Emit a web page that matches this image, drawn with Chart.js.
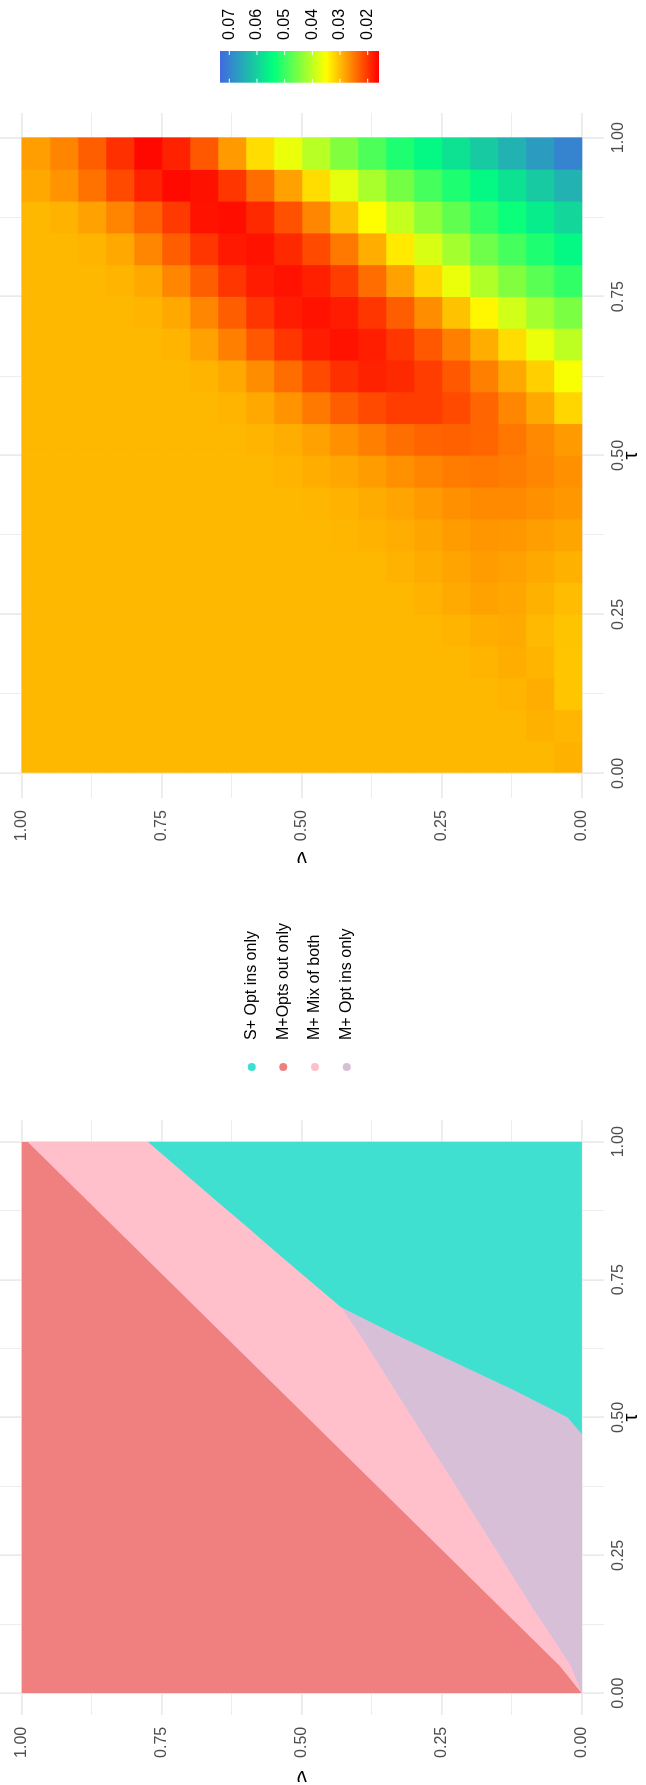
<!DOCTYPE html>
<html>
<head>
<meta charset="utf-8">
<script src="https://cdn.jsdelivr.net/npm/chart.js@4/dist/chart.umd.min.js"></script>
<style>
  html, body { margin: 0; padding: 0; background: #ffffff; overflow: hidden; }
  body { width: 646px; height: 1785px; position: relative; }
  /* the two panels are laid out side by side, then the sheet is turned a quarter turn */
  #sheet { position: absolute; left: 0; top: 0; width: 1785px; height: 646px;
           transform-origin: 0 0; transform: translate(0px, 1785px) rotate(-90deg); }
  #choiceBox { position: absolute; left: -20px; top: 0; width: 920px; height: 646px; }
  #lossBox { position: absolute; left: 900px; top: 0; width: 885px; height: 646px; }
</style>
</head>
<body>
<div id="sheet">
  <div id="choiceBox"><canvas id="choiceChart" width="920" height="646"></canvas></div>
  <div id="lossBox"><canvas id="lossChart" width="885" height="646"></canvas></div>
</div>
<script>
// ---------- shared axis ticks ----------
const tickValues = [0, 0.25, 0.5, 0.75, 1];
const tickLabels = ['0.00', '0.25', '0.50', '0.75', '1.00'];
const gridValues = [0, 0.125, 0.25, 0.375, 0.5, 0.625, 0.75, 0.875, 1];
const axisLimits = [-0.039, 1.039];

// ---------- left panel: which contract is chosen ----------
const categories = ['S+ Opt ins only', 'M+Opts out only', 'M+ Mix of both', 'M+ Opt ins only'];
const categoryColours = ['#40E0D0', '#F08080', '#FFC0CB', '#D8BFD8'];
// region edges along tau (nu value of each upper edge)
const tauSamples   = [0, 0.05, 0.1, 0.15, 0.2, 0.25, 0.3, 0.35, 0.4, 0.45, 0.47, 0.5, 0.55, 0.6, 0.65, 0.7, 0.75, 0.8, 0.85, 0.9, 0.95, 1];
const mixTop       = [0, 0.04, 0.09, 0.14, 0.19, 0.24, 0.29, 0.34, 0.39, 0.44, 0.46, 0.49, 0.54, 0.59, 0.64, 0.69, 0.74, 0.79, 0.84, 0.89, 0.94, 0.99];
const mOptInTop    = [0, 0.02, 0.052, 0.085, 0.116, 0.147, 0.178, 0.209, 0.24, 0.272, 0.284, 0.303, 0.334, 0.365, 0.396, 0.43, 0.488, 0.546, 0.603, 0.661, 0.718, 0.775];
const sOptInTop    = [0, 0, 0, 0, 0, 0, 0, 0, 0, 0, 0, 0.025, 0.122, 0.227, 0.332, 0.43, 0.488, 0.546, 0.603, 0.661, 0.718, 0.775];
const fieldTop = 1;
const fieldBottom = 0;

// ---------- right panel: loss surface ----------
const tauCentres = [0.025, 0.075, 0.125, 0.175, 0.225, 0.275, 0.325, 0.375, 0.425, 0.475, 0.525, 0.575, 0.625, 0.675, 0.725, 0.775, 0.825, 0.875, 0.925, 0.975];
const nuCentres  = [0.025, 0.075, 0.125, 0.175, 0.225, 0.275, 0.325, 0.375, 0.425, 0.475, 0.525, 0.575, 0.625, 0.675, 0.725, 0.775, 0.825, 0.875, 0.925, 0.975];
// values in thousandths, one row per tau, nu ascending
const lossMilli = [
  [29.2,29.7,29.7,29.7,29.7,29.7,29.7,29.7,29.7,29.7,29.7,29.7,29.7,29.7,29.7,29.7,29.7,29.7,29.7,29.7],
  [29.6,29.2,29.7,29.7,29.7,29.7,29.7,29.7,29.7,29.7,29.7,29.7,29.7,29.7,29.7,29.7,29.7,29.7,29.7,29.7],
  [30.8,28.9,29.4,29.7,29.7,29.7,29.7,29.7,29.7,29.7,29.7,29.7,29.7,29.7,29.7,29.7,29.7,29.7,29.7,29.7],
  [30.8,29.4,29.0,29.4,29.7,29.7,29.7,29.7,29.7,29.7,29.7,29.7,29.7,29.7,29.7,29.7,29.7,29.7,29.7,29.7],
  [30.6,29.8,28.7,29.0,29.4,29.7,29.7,29.7,29.7,29.7,29.7,29.7,29.7,29.7,29.7,29.7,29.7,29.7,29.7,29.7],
  [30.0,29.2,28.4,28.1,28.7,29.3,29.7,29.7,29.7,29.7,29.7,29.7,29.7,29.7,29.7,29.7,29.7,29.7,29.7,29.7],
  [29.2,28.6,28.0,27.7,28.2,28.8,29.3,29.7,29.7,29.7,29.7,29.7,29.7,29.7,29.7,29.7,29.7,29.7,29.7,29.7],
  [28.3,27.8,27.3,27.2,27.6,28.3,28.9,29.3,29.6,29.7,29.7,29.7,29.7,29.7,29.7,29.7,29.7,29.7,29.7,29.7],
  [27.3,26.8,26.3,26.3,26.8,27.5,28.2,28.8,29.3,29.6,29.7,29.7,29.7,29.7,29.7,29.7,29.7,29.7,29.7,29.7],
  [26.8,26.0,25.3,25.0,25.2,25.8,26.7,27.6,28.4,29.0,29.5,29.7,29.7,29.7,29.7,29.7,29.7,29.7,29.7,29.7],
  [27.5,26.2,24.8,23.6,23.2,23.4,24.2,25.5,26.8,28.0,28.9,29.4,29.7,29.7,29.7,29.7,29.7,29.7,29.7,29.7],
  [32.0,28.5,26.0,23.5,21.5,20.5,20.5,21.5,23.0,25.0,27.0,28.5,29.4,29.7,29.7,29.7,29.7,29.7,29.7,29.7],
  [35.5,31.5,28.5,25.5,22.5,20.5,19.0,18.5,19.5,21.5,24.0,26.5,28.5,29.5,29.7,29.7,29.7,29.7,29.7,29.7],
  [40.0,36.5,32.5,29.0,25.5,22.5,20.0,18.2,17.3,18.0,20.0,22.5,25.5,28.0,29.4,29.7,29.7,29.7,29.7,29.7],
  [45.0,42.0,38.5,34.5,30.5,26.5,23.0,20.0,18.0,17.3,18.0,20.0,23.0,26.0,28.5,29.5,29.7,29.7,29.7,29.7],
  [50.5,47.5,44.5,41.0,36.5,32.0,28.0,24.0,20.5,18.3,17.3,18.0,20.0,23.0,26.0,28.5,29.5,29.7,29.7,29.7],
  [55.0,52.0,49.0,46.0,42.0,38.0,33.5,29.0,25.0,21.5,19.0,17.3,17.8,20.0,23.0,26.0,28.5,29.5,29.7,29.7],
  [59.5,56.5,53.5,50.5,47.0,43.5,39.5,35.0,30.5,26.0,22.0,19.0,17.0,17.3,20.3,23.2,25.8,28.0,29.3,29.7],
  [64.0,61.0,58.0,55.0,52.0,49.0,45.5,41.5,37.0,32.5,28.0,24.0,20.0,17.2,16.6,18.5,21.5,24.5,27.0,28.5],
  [70.0,67.0,64.0,61.0,58.0,55.0,52.0,48.5,44.5,40.5,36.5,32.5,27.5,22.5,18.5,16.5,19.5,23.0,25.8,27.8]
];
const colourStops = ['#FF0000', '#FFFF00', '#00FF7F', '#4169E1'];
const colourLimits = [0.01592, 0.07336];
const colourbarTicks = [0.02, 0.03, 0.04, 0.05, 0.06, 0.07];
const colourbarLabels = ['0.02', '0.03', '0.04', '0.05', '0.06', '0.07'];

// ---------- helpers ----------
const FONT = '"Liberation Sans", Arial, Helvetica, sans-serif';
Chart.defaults.font.family = FONT;

function hexToRgb(h) {
  return [parseInt(h.slice(1, 3), 16), parseInt(h.slice(3, 5), 16), parseInt(h.slice(5, 7), 16)];
}
const stopRgb = colourStops.map(hexToRgb);
function colourFor(v) {
  let f = (v - colourLimits[0]) / (colourLimits[1] - colourLimits[0]);
  f = Math.max(0, Math.min(1, f));
  const s = f * (stopRgb.length - 1);
  const i = Math.min(Math.floor(s), stopRgb.length - 2);
  const t = s - i;
  const a = stopRgb[i], b = stopRgb[i + 1];
  const c = k => Math.round(a[k] + (b[k] - a[k]) * t);
  return 'rgb(' + c(0) + ',' + c(1) + ',' + c(2) + ')';
}

function makeAxis(position, title, thickness, tickPad, titlePad) {
  return {
    type: 'linear',
    position: position,
    min: axisLimits[0],
    max: axisLimits[1],
    offset: false,
    border: { display: false },
    grid: {
      color: '#EBEBEB',
      lineWidth: ctx => (tickValues.indexOf(ctx.tick.value) >= 0 ? 1.8 : 0.9),
      drawTicks: false,
      offset: false
    },
    ticks: {
      autoSkip: false,
      maxRotation: 0,
      minRotation: 0,
      padding: tickPad,
      color: '#4D4D4D',
      font: { size: 16 },
      callback: value => {
        const k = tickValues.indexOf(value);
        return k >= 0 ? tickLabels[k] : '';
      }
    },
    afterBuildTicks: scale => { scale.ticks = gridValues.map(v => ({ value: v })); },
    afterFit: scale => {
      if (scale.isHorizontal()) scale.height = thickness; else scale.width = thickness;
      // the panel runs right up to the sheet edges, so no room is kept for overhanging labels
      scale.paddingTop = 0; scale.paddingBottom = 0;
      scale.paddingLeft = 0; scale.paddingRight = 0;
    },
    title: { display: true, text: title, color: '#000000', font: { size: 20 }, padding: titlePad }
  };
}

// ---------- legend for the choice panel ----------
const choiceKey = {
  id: 'choiceKey',
  afterDraw(chart, args, o) {
    const ctx = chart.ctx;
    ctx.save();
    ctx.font = '16px ' + FONT;
    ctx.textBaseline = 'middle';
    ctx.textAlign = 'left';
    const n = categories.length;
    for (let i = 0; i < n; i++) {
      const y = o.centreY + (i - (n - 1) / 2) * o.spacing;
      ctx.fillStyle = categoryColours[i];
      ctx.beginPath();
      ctx.arc(o.dotX, y, o.radius, 0, Math.PI * 2);
      ctx.fill();
      ctx.fillStyle = '#000000';
      ctx.fillText(categories[i], o.textX, y);
    }
    ctx.restore();
  }
};

// ---------- colour bar for the loss panel ----------
const colourKey = {
  id: 'colourKey',
  afterDraw(chart, args, o) {
    const ctx = chart.ctx;
    const yOf = v => o.top + (colourLimits[1] - v) / (colourLimits[1] - colourLimits[0]) * o.height;
    ctx.save();
    const g = ctx.createLinearGradient(0, o.top + o.height, 0, o.top);
    colourStops.forEach((c, k) => g.addColorStop(k / (colourStops.length - 1), c));
    ctx.fillStyle = g;
    ctx.fillRect(o.left, o.top, o.width, o.height);
    ctx.strokeStyle = '#FFFFFF';
    ctx.lineWidth = 1;
    ctx.font = '16px ' + FONT;
    ctx.textBaseline = 'middle';
    ctx.textAlign = 'left';
    colourbarTicks.forEach((v, k) => {
      const y = yOf(v);
      ctx.beginPath();
      ctx.moveTo(o.left, y); ctx.lineTo(o.left + o.tick, y);
      ctx.moveTo(o.left + o.width - o.tick, y); ctx.lineTo(o.left + o.width, y);
      ctx.stroke();
      ctx.fillStyle = '#000000';
      ctx.fillText(colourbarLabels[k], o.labelX, y);
    });
    ctx.restore();
  }
};

// ---------- left chart ----------
function edgeSeries(values) {
  return tauSamples.map((t, k) => ({ x: t, y: Array.isArray(values) ? values[k] : values }));
}
function region(values, colour) {
  return {
    data: edgeSeries(values),
    showLine: true,
    pointRadius: 0,
    borderWidth: 0,
    borderColor: 'rgba(0,0,0,0)',
    backgroundColor: colour,
    fill: { target: 4 }
  };
}

new Chart(document.getElementById('choiceChart'), {
  type: 'scatter',
  data: {
    datasets: [
      region(sOptInTop, categoryColours[0]),
      region(mOptInTop, categoryColours[3]),
      region(mixTop, categoryColours[2]),
      region(fieldTop, categoryColours[1]),
      { data: edgeSeries(fieldBottom), showLine: true, pointRadius: 0, borderWidth: 0, borderColor: 'rgba(0,0,0,0)', fill: false }
    ]
  },
  options: {
    responsive: false,
    animation: false,
    events: [],
    layout: { padding: { left: 0, right: 235.2, top: 0, bottom: 0 } },
    plugins: {
      legend: { display: false },
      tooltip: { enabled: false },
      choiceKey: { dotX: 738, textX: 765, centreY: 299.2, spacing: 31.7, radius: 4 }
    },
    scales: {
      x: makeAxis('bottom', 'τ', 42.3, 5.7, { top: 0, bottom: 3 }),
      y: makeAxis('left', 'ν', 90.2, 12, { top: 16, bottom: 0 })
    }
  },
  plugins: [choiceKey]
});

// ---------- right chart ----------
const cellHalf = (tauCentres[1] - tauCentres[0]) / 2;
const lossCells = [];
tauCentres.forEach((tau, i) => {
  nuCentres.forEach((nu, j) => {
    lossCells.push({ x: [tau - cellHalf, tau + cellHalf], y: nu, v: lossMilli[i][j] / 1000 });
  });
});

new Chart(document.getElementById('lossChart'), {
  type: 'bar',
  data: {
    datasets: [{
      data: lossCells,
      backgroundColor: c => colourFor(c.raw.v),
      borderWidth: 0,
      grouped: false,
      barPercentage: 1,
      categoryPercentage: 1
    }]
  },
  options: {
    indexAxis: 'y',
    responsive: false,
    animation: false,
    events: [],
    layout: { padding: { left: 0, right: 112.9, top: 0, bottom: 0 } },
    plugins: {
      legend: { display: false },
      tooltip: { enabled: false },
      colourKey: { left: 802.3, top: 220, width: 31.7, height: 159, tick: 4, labelX: 845 }
    },
    scales: {
      x: makeAxis('bottom', 'τ', 42.3, 5.7, { top: 0, bottom: 3 }),
      y: makeAxis('left', 'ν', 86.9, 12, { top: 15.2, bottom: 0 })
    }
  },
  plugins: [colourKey]
});
</script>
</body>
</html>
